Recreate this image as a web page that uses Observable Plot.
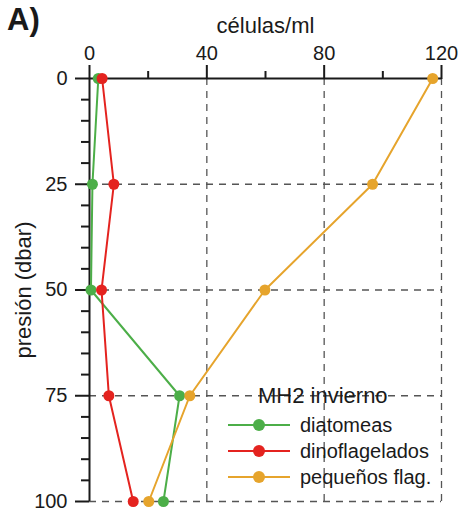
<!DOCTYPE html>
<html>
<head>
<meta charset="utf-8">
<script src="https://cdn.jsdelivr.net/npm/d3@7"></script>
<script src="https://cdn.jsdelivr.net/npm/@observablehq/plot@0.6"></script>
<style>
  html, body { margin: 0; padding: 0; background: #fff; }
  body { font-family: "Liberation Sans", Arial, Helvetica, sans-serif; color: #1a1a1a; }
  #wrap { position: relative; width: 458px; height: 515px; }
  #panel { position: absolute; left: 7px; top: 2px; font-size: 31px; font-weight: bold; line-height: 36px; }
  #legend { position: absolute; left: 228px; top: 383px; }
  #legend .title { position: absolute; left: 30px; top: 0; font-size: 22px; line-height: 26px; white-space: nowrap; }
  #legend .row { position: absolute; left: 0; height: 26px; display: flex; align-items: center; white-space: nowrap; font-size: 20px; }
  #legend .row svg { display: block; margin-right: 10px; }
</style>
</head>
<body>
<div id="wrap">
  <div id="chart"></div>
  <div id="panel">A)</div>
  <div id="legend"></div>
</div>
<script>
// ---- data ----
const depths = [0, 25, 50, 75, 100];
const diatomeas = [3, 1, 0.5, 30.7, 25.2];
const dinoflagelados = [4.3, 8.3, 4.1, 6.6, 14.9];
const pequenosFlag = [117, 96.5, 59.8, 34.2, 20.2];

const seriesNames = ["diatomeas", "dinoflagelados", "pequeños flag."];
const seriesColors = ["#4cae48", "#e4231f", "#e6a42c"];
const legendTitle = "MH2 invierno";
const xLabel = "células/ml";
const yLabel = "presión (dbar)";

const xTicks = [0, 40, 80, 120];
const xMinorTicks = [20, 60, 100];
const yTicks = [0, 25, 50, 75, 100];
const yMinorTicks = [5, 10, 15, 20, 30, 35, 40, 45, 55, 60, 65, 70, 80, 85, 90, 95];
const xGrid = [40, 80, 120];
const yGrid = [25, 50, 75, 100];

// ---- build table ----
const seriesValues = [diatomeas, dinoflagelados, pequenosFlag];
const data = [];
seriesNames.forEach((name, s) => {
  depths.forEach((d, i) => data.push({ serie: name, depth: d, value: seriesValues[s][i] }));
});

const gridStyle = { stroke: "#555", strokeOpacity: 1, strokeWidth: 1.3, strokeDasharray: "7,6" };

const chart = Plot.plot({
  width: 458,
  height: 515,
  marginLeft: 89,
  marginRight: 17,
  marginTop: 78,
  marginBottom: 14,
  style: { fontFamily: "Liberation Sans, Arial, sans-serif", fontSize: "20px", color: "#1a1a1a", background: "transparent", overflow: "visible" },
  x: { domain: [0, 120] },
  y: { domain: [0, 100], reverse: true },
  color: { domain: seriesNames, range: seriesColors },
  marks: [
    Plot.gridX(xGrid, gridStyle),
    Plot.gridY(yGrid, gridStyle),
    Plot.ruleY([0], { stroke: "#1a1a1a", strokeWidth: 2 }),
    Plot.ruleX([0], { stroke: "#1a1a1a", strokeWidth: 2 }),
    Plot.axisX(xTicks, { anchor: "top", tickSize: 14, tickPadding: 5, strokeWidth: 2, stroke: "#1a1a1a", fill: "#1a1a1a", fontSize: 20, label: null }),
    Plot.axisX(xMinorTicks, { anchor: "top", tickSize: 8, strokeWidth: 2, stroke: "#1a1a1a", tickFormat: () => "", label: null }),
    Plot.axisY(yTicks, { anchor: "left", tickSize: 14, tickPadding: 8, strokeWidth: 2, stroke: "#1a1a1a", fill: "#1a1a1a", fontSize: 20, label: null }),
    Plot.axisY(yMinorTicks, { anchor: "left", tickSize: 8, strokeWidth: 2, stroke: "#1a1a1a", tickFormat: () => "", label: null }),
    Plot.text([xLabel], { frameAnchor: "top", dy: -46, lineAnchor: "bottom", textAnchor: "middle", fontSize: 22, fill: "#1a1a1a" }),
    Plot.text([yLabel], { frameAnchor: "left", dx: -66, rotate: -90, textAnchor: "middle", lineAnchor: "middle", fontSize: 22, fill: "#1a1a1a" }),
    Plot.line(data, { x: "value", y: "depth", z: "serie", stroke: "serie", strokeWidth: 2 }),
    Plot.dot(data, { x: "value", y: "depth", fill: "serie", r: 5.5 })
  ]
});
document.getElementById("chart").appendChild(chart);

// ---- legend ----
const legend = document.getElementById("legend");
const t = document.createElement("div");
t.className = "title";
t.textContent = legendTitle;
legend.appendChild(t);
seriesNames.forEach((name, i) => {
  const row = document.createElement("div");
  row.className = "row";
  row.style.top = (29 + i * 26) + "px";
  row.innerHTML = `<svg width="62" height="26"><line x1="0" x2="62" y1="13" y2="13" stroke="${seriesColors[i]}" stroke-width="2"/><circle cx="31" cy="13" r="6" fill="${seriesColors[i]}"/></svg><span>${name}</span>`;
  legend.appendChild(row);
});
</script>
</body>
</html>
